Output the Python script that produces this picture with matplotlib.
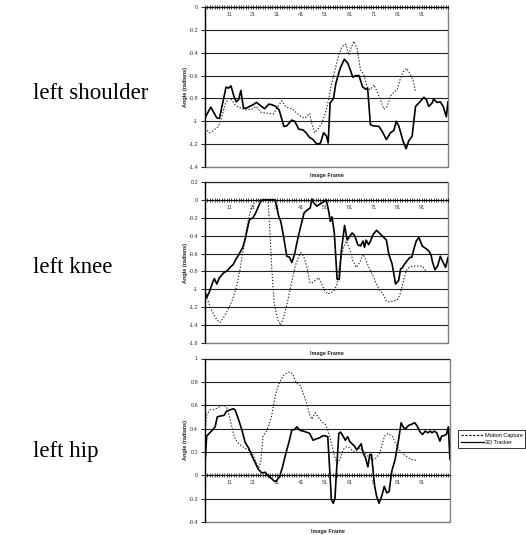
import matplotlib
matplotlib.use("Agg")
import matplotlib.pyplot as plt
from matplotlib.patches import Rectangle
from matplotlib.lines import Line2D

# ---------------- data ----------------
shoulder_track_f = [1, 3.4, 5.9, 7, 9.75, 10.8, 11.8, 13, 14, 15, 15.9, 17, 18.2, 19.5, 21, 22.4, 24.2, 25.8, 27.5,
                    28.8, 30.4, 31.8, 33.8, 35, 37, 38.3, 40, 41.6, 43, 44.4, 45.9, 47.5, 49, 50.3, 51.5, 52.2, 53,
                    54.4, 55.4, 57.2, 58.9, 60.3, 61.4, 62.4, 63.6, 65, 66.5, 67.9, 68.6, 69.75, 71, 73.3, 74.7, 76.4,
                    78.1, 79.5, 80.5, 81.6, 83.4, 84.6, 85.7, 87.1, 88.5, 89.9, 92, 93, 94, 95.4, 96, 97.5, 98.8, 100,
                    101.3, 102]
shoulder_track_v = [-0.97, -0.876, -0.97, -0.975, -0.70, -0.71, -0.69, -0.78, -0.83, -0.81, -0.73, -0.885, -0.885,
                    -0.87, -0.855, -0.835, -0.865, -0.89, -0.85, -0.855, -0.87, -0.9, -1.045, -1.04, -0.99, -1.0,
                    -1.07, -1.074, -1.1, -1.14, -1.16, -1.2, -1.19, -1.1, -1.13, -1.19, -0.84, -0.8, -0.667, -0.536,
                    -0.457, -0.49, -0.55, -0.614, -0.6, -0.6, -0.7, -0.72, -0.71, -1.03, -1.04, -1.045, -1.09, -1.16,
                    -1.1, -1.08, -1.0, -1.045, -1.18, -1.24, -1.17, -1.13, -0.87, -0.84, -0.79, -0.81, -0.87, -0.84,
                    -0.806, -0.835, -0.83, -0.87, -0.96, -0.83]
shoulder_mocap_f = [1, 2.8, 4.5, 6.6, 8, 9.3, 10.7, 12, 13.5, 14.9, 17.7, 20.4, 22.3, 24.2, 26.7, 29.4, 31.5, 32.9,
                    34.3, 35.7, 37.2, 39.5, 41.3, 42.7, 44.5, 45.4, 46.6, 48.2, 49.6, 51, 52.4, 53.5, 55.2, 56.6, 58,
                    59.6, 60.7, 61.7, 62.8, 64.2, 65.6, 67, 68.4, 69.75, 71.2, 72.5, 73.9, 75.3, 76.7, 78.1, 79.75,
                    80.9, 82, 83.4, 84.8, 86.1, 87.5, 88.5]
shoulder_mocap_v = [-1.06, -1.1, -1.08, -1.045, -0.96, -0.855, -0.8, -0.81, -0.855, -0.876, -0.9, -0.895, -0.87,
                    -0.92, -0.93, -0.935, -0.865, -0.82, -0.865, -0.885, -0.89, -0.935, -0.965, -0.97, -0.93, -1.02,
                    -1.1, -1.06, -1.015, -0.93, -0.81, -0.68, -0.536, -0.42, -0.346, -0.325, -0.42, -0.36, -0.30,
                    -0.36, -0.55, -0.59, -0.7, -0.725, -0.68, -0.74, -0.81, -0.895, -0.87, -0.78, -0.74, -0.725,
                    -0.64, -0.565, -0.536, -0.58, -0.64, -0.74]

knee_track_f = [1, 1.7, 2.8, 4.2, 4.9, 5.9, 7, 8.6, 10.3, 11.4, 12.8, 13.5, 14.9, 15.9, 16.7, 17.7, 18.4, 19.5, 20.9,
                21.8, 22.8, 23.9, 25, 30, 30.6, 31.6, 32.5, 33.6, 35, 36.1, 37.1, 38.2, 39.2, 40.3, 41.3, 42.2, 43.4,
                44.75, 45.4, 46.1, 47.5, 48.6, 50, 51.4, 52.4, 53.1, 53.8, 54.75, 55.9, 56.8, 57.6, 59, 60.1, 61.3,
                62.2, 63.2, 64.5, 65.6, 66.7, 67.3, 68, 69, 69.8, 70.9, 72.3, 74, 75.3, 76.4, 77.4, 78.8, 80.2, 81.5,
                82.3, 83, 83.9, 85, 86.1, 87, 87.8, 88.8, 89.9, 91.3, 93.1, 94, 95, 95.6, 96.6, 97.7, 98.8, 100, 101,
                102]
knee_track_v = [-1.03, -1.09, -1.03, -0.92, -0.88, -0.94, -0.87, -0.82, -0.79, -0.755, -0.72, -0.68, -0.62, -0.57,
                -0.53, -0.44, -0.35, -0.22, -0.2, -0.16, -0.1, -0.03, 0, 0, -0.05, -0.18, -0.24, -0.4, -0.63, -0.64,
                -0.7, -0.61, -0.48, -0.35, -0.24, -0.144, -0.115, -0.09, 0.01, -0.03, -0.07, -0.05, -0.026, 0.0,
                -0.126, -0.24, -0.19, -0.37, -0.885, -0.89, -0.59, -0.285, -0.45, -0.4, -0.37, -0.4, -0.5, -0.515,
                -0.46, -0.53, -0.45, -0.5, -0.46, -0.385, -0.34, -0.385, -0.42, -0.45, -0.607, -0.72, -0.94, -0.9,
                -0.77, -0.76, -0.72, -0.68, -0.644, -0.64, -0.55, -0.46, -0.42, -0.515, -0.55, -0.57, -0.62, -0.7,
                -0.78, -0.74, -0.63, -0.7, -0.755, -0.644]
knee_mocap_f = [1, 2.4, 3.8, 5.9, 7.25, 8.6, 10.7, 12.5, 14.2, 15.6, 16.7, 17.7, 18.6, 19.75, 20.9, 21.8, 23.2, 27.2,
                28.1, 28.75, 29.7, 31.1, 32.5, 33.9, 35.3, 36.7, 38.5, 39.9, 40.9, 42, 43.4, 44.5, 45.4, 46.8, 48.2,
                49.2, 50.6, 52, 53.4, 54.75, 55.9, 57, 58.4, 59.75, 61.1, 62.5, 63.9, 65.3, 66.7, 68, 69.4, 70.9,
                72.3, 73.6, 75, 76.4, 77.8, 79.5, 80.9, 82, 83, 84, 85, 86.5, 88.5, 89.9, 91.3, 92.7]
knee_mocap_v = [-1.03, -1.14, -1.24, -1.34, -1.37, -1.32, -1.22, -1.11, -0.96, -0.77, -0.59, -0.42, -0.27, -0.14,
                -0.07, -0.015, 0, 0, -0.4, -0.77, -1.14, -1.33, -1.4, -1.29, -1.14, -0.96, -0.74, -0.64, -0.59,
                -0.63, -0.755, -0.92, -0.93, -0.9, -0.87, -0.92, -1.01, -1.05, -1.04, -1.01, -0.94, -0.71, -0.55,
                -0.46, -0.55, -0.68, -0.755, -0.7, -0.607, -0.68, -0.77, -0.85, -0.94, -1.01, -1.05, -1.13, -1.14,
                -1.13, -1.12, -1.06, -0.96, -0.85, -0.77, -0.745, -0.74, -0.74, -0.74, -0.79]

hip_track_f = [1, 1.7, 2.8, 4.2, 5.2, 6.1, 7.25, 8.9, 10, 11.4, 12.8, 13.5, 14.9, 16.3, 17.7, 19.1, 20.4, 21.8, 23.2,
               24.6, 26, 27.4, 28.8, 29.75, 30.6, 32, 33.2, 34.5, 35.9, 37.1, 38.1, 39.2, 40.3, 41.7, 43.1, 44.5,
               45.9, 47.3, 48.6, 49.6, 50.6, 52, 52.9, 53.5, 54.3, 55, 55.6, 56.6, 57.3, 58.4, 59.3, 60.3, 61.1,
               62.1, 63.1, 64, 64.9, 65.9, 66.7, 67.7, 68.7, 69.5, 70.2, 71.4, 72.3, 73.3, 74.4, 75.5, 76.5, 77.5,
               78.6, 80, 81.4, 82.5, 83.5, 84.4, 85.6, 86.7, 88.1, 89, 90.4, 91.4, 92.5, 93.6, 94.6, 95.3, 96.3,
               97.3, 98.6, 99.3, 100.4, 101.3, 102.1, 102.8]
hip_track_v = [0.106, 0.335, 0.36, 0.39, 0.415, 0.5, 0.507, 0.513, 0.55, 0.56, 0.57, 0.56, 0.48, 0.39, 0.28, 0.235,
               0.17, 0.11, 0.05, 0.02, 0.026, -0.01, -0.03, -0.05, -0.05, -0.01, 0.07, 0.18, 0.285, 0.39, 0.39,
               0.415, 0.387, 0.378, 0.37, 0.358, 0.3, 0.312, 0.32, 0.335, 0.34, 0.33, 0.02, -0.21, -0.24, -0.195,
               0.02, 0.358, 0.37, 0.335, 0.3, 0.33, 0.29, 0.27, 0.25, 0.22, 0.24, 0.27, 0.19, 0.15, 0.072, 0.178,
               0.178, -0.08, -0.18, -0.24, -0.18, -0.095, -0.15, -0.14, 0.034, 0.135, 0.3, 0.45, 0.407, 0.4, 0.427,
               0.436, 0.45, 0.427, 0.37, 0.35, 0.378, 0.364, 0.378, 0.364, 0.378, 0.364, 0.292, 0.335, 0.34, 0.35,
               0.415, 0.135]
hip_mocap_f = [1, 1.7, 3.1, 5.2, 7.25, 8.6, 10, 11.1, 12.1, 13.1, 14.5, 16.3, 18.1, 19.75, 20.9, 22.25, 23.4, 24.2,
               25.1, 26.9, 28.6, 29.8, 30.9, 32.1, 33.6, 35.2, 36.3, 37.5, 38.9, 40.6, 42, 43.4, 44.5, 45.4, 46.8,
               48.2, 49.6, 51, 52, 53.1, 54.3, 55.2, 56.2, 57.3, 58.4, 59.75, 61.1, 62.5, 63.9, 65.3, 66.7, 68, 69.4,
               70.9, 72.25, 73.6, 74.6, 75.6, 77, 78.8, 79.75, 80.9, 82.2, 83.6, 85, 86.4, 87.8, 88.9]
hip_mocap_v = [0.38, 0.52, 0.56, 0.565, 0.59, 0.6, 0.58, 0.507, 0.42, 0.335, 0.28, 0.25, 0.226, 0.21, 0.178, 0.106,
               0.063, 0.12, 0.335, 0.39, 0.5, 0.64, 0.736, 0.8, 0.855, 0.88, 0.885, 0.865, 0.79, 0.77, 0.69, 0.607,
               0.52, 0.48, 0.536, 0.493, 0.456, 0.436, 0.39, 0.307, 0.206, 0.135, 0.106, 0.15, 0.22, 0.244, 0.235,
               0.206, 0.206, 0.235, 0.206, 0.178, 0.15, 0.135, 0.15, 0.19, 0.264, 0.335, 0.358, 0.335, 0.292, 0.244,
               0.206, 0.178, 0.158, 0.14, 0.13, 0.13]

row_labels = ["left shoulder", "left knee", "left hip"]
series_names = ["Motion Capture", "3D Tracker"]
x_tick_labels = ["1", "11", "21", "31", "41", "51", "61", "71", "81", "91"]
y_ticks = [
    [0, -0.2, -0.4, -0.6, -0.8, -1, -1.2, -1.4],
    [0.2, 0, -0.2, -0.4, -0.6, -0.8, -1, -1.2, -1.4, -1.6],
    [1, 0.8, 0.6, 0.4, 0.2, 0, -0.2, -0.4],
]
n_frames = 102

# ---------------- layout ----------------
W, H = 526, 535
fig = plt.figure(figsize=(W / 100, H / 100), dpi=100)
fig.patch.set_facecolor("white")

def fx(px):
    return px / W

def fy(py):
    return 1 - py / H

SANS = ["Liberation Sans", "DejaVu Sans"]
SERIF = ["Liberation Serif", "DejaVu Serif"]

panels = [
    dict(box=(205, 448, 7, 167), xmax=102.0, lab_y=99, xl_y=176),
    dict(box=(205, 448, 182, 343), xmax=102.0, lab_y=273, xl_y=354),
    dict(box=(205, 450, 358.5, 522), xmax=102.8, lab_y=457, xl_y=531),
]
data = [
    (shoulder_mocap_f, shoulder_mocap_v, shoulder_track_f, shoulder_track_v),
    (knee_mocap_f, knee_mocap_v, knee_track_f, knee_track_v),
    (hip_mocap_f, hip_mocap_v, hip_track_f, hip_track_v),
]

for i, p in enumerate(panels):
    l, r, t, b = p["box"]
    ax = fig.add_axes([fx(l), fy(b), (r - l) / W, (b - t) / H])
    mf, mv, tf, tv = data[i]
    yt = y_ticks[i]
    ax.set_ylim(min(yt), max(yt))
    ax.set_xlim(1, p["xmax"])

    ax.plot(mf, mv, color="#222222", lw=0.8, ls=(0, (1.2, 1.6)), zorder=3)
    ax.plot(tf, tv, color="black", lw=1.2, zorder=4)

    ax.set_yticks(yt)
    ax.set_yticklabels([("%g" % v) for v in yt])
    ax.yaxis.grid(True, color="#222222", lw=0.8)
    ax.set_axisbelow(True)

    ticks = list(range(1, n_frames + 1))
    labels = [""] * len(ticks)
    for s in x_tick_labels:
        labels[int(s) - 1] = s
    ax.set_xticks(ticks)
    ax.set_xticklabels(labels)
    ax.tick_params(axis="x", direction="inout", length=2.5, width=0.5, pad=2.5, colors="black",
                   labelcolor="#444444", labelsize=4, labelfontfamily="Liberation Sans")
    ax.tick_params(axis="y", direction="out", length=3, width=0.6, pad=2,
                   labelcolor="#333333", labelsize=4, labelfontfamily="Liberation Sans")

    for s in ["top", "right"]:
        ax.spines[s].set_visible(False)
    ax.spines["bottom"].set_position(("data", 0))
    ax.spines["bottom"].set_linewidth(0.8)
    ax.spines["left"].set_linewidth(0.9)
    ax.add_patch(Rectangle((0, 0), 1, 1, transform=ax.transAxes, fill=False,
                           edgecolor="#808080", lw=1.0, clip_on=False, zorder=0.5))

    fig.text(fx(186), fy((t + b) / 2), "Angle (radians)", rotation=90, ha="center", va="center",
             fontsize=4, fontweight="bold", family=SANS, color="#222222")
    fig.text(fx((l + r) / 2), fy(p["xl_y"]), "Image Frame", ha="center", va="center",
             fontsize=4, fontweight="bold", family=SANS, color="#222222")
    fig.text(fx(33), fy(p["lab_y"]), row_labels[i], ha="left", va="baseline",
             fontsize=16.5, family=SERIF, color="black")

handles = [Line2D([], [], color="black", lw=0.8, ls=(0, (2, 1.5))),
           Line2D([], [], color="black", lw=0.9)]
leg = fig.legend(handles, series_names, loc="upper left",
                 bbox_to_anchor=(fx(458), fy(430)),
                 prop={"family": SANS, "size": 4}, frameon=True, fancybox=False,
                 borderpad=0.45, handlelength=4.2, handletextpad=0.15, labelspacing=0.45,
                 borderaxespad=0)
leg.get_frame().set_edgecolor("black")
leg.get_frame().set_linewidth(0.7)

fig.savefig("out.png", dpi=100, facecolor="white")
